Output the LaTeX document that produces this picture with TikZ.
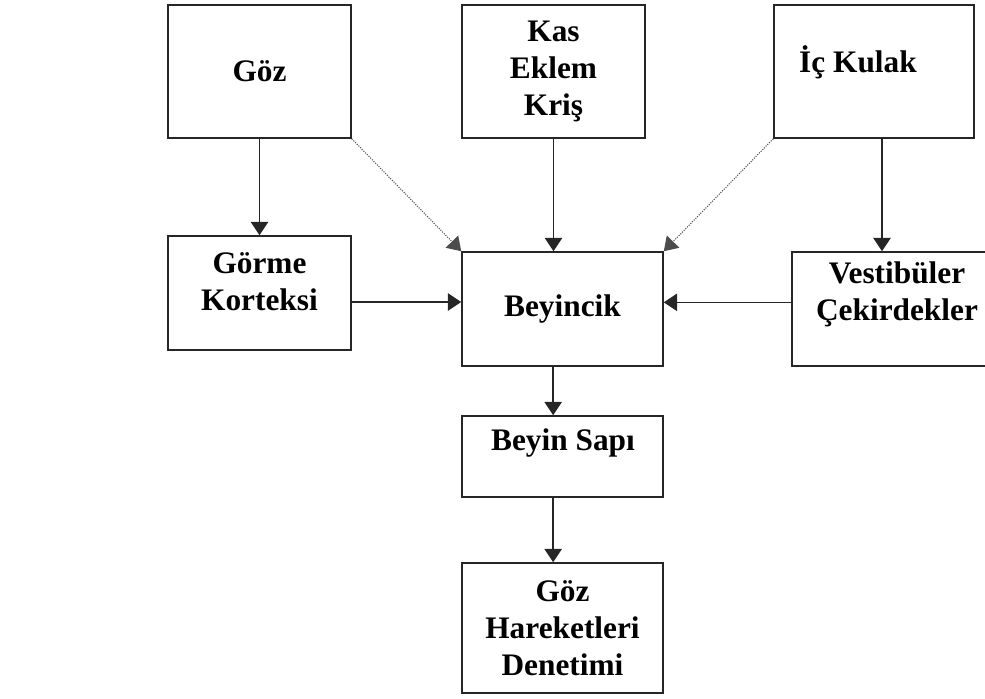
\documentclass[tikz,border=0pt]{standalone}
\usepackage{fontspec}
\setmainfont{Liberation Serif}
\usetikzlibrary{arrows.meta}

\begin{document}
\begin{tikzpicture}[
	x=0.75pt, y=-0.75pt,
	font=\bfseries\fontsize{23.5}{27.5}\selectfont,
	box/.style={rectangle, draw=black!85, line width=1.2pt, inner sep=0pt, align=center},
	txt/.style={align=center, inner sep=0pt},
	link/.style={line width=1.2pt, draw=black!85, -{Triangle[width=13pt,length=10pt]}},
	side/.style={densely dotted, line width=0.8pt, draw=black!70, -{Triangle[width=13pt,length=10pt]}},
	]
	\useasboundingbox (0,0) rectangle (985,699);
	% top row
	\node [box, minimum width=183*0.75pt, minimum height=133*0.75pt] (goz) at (259.5,71.5) {G\"oz};
	\node [box, minimum width=183*0.75pt, minimum height=133*0.75pt] (kas) at (553.5,71.5) {Kas\\Eklem\\Kri\c{s}};
	\node [box, minimum width=200*0.75pt, minimum height=133*0.75pt] (ickulak) at (874,71.5) {};
	\node [txt] (ickulak-t) at (858,62) {\.I\c{c} Kulak};
	% middle row
	\node [box, minimum width=183*0.75pt, minimum height=114*0.75pt] (gorme) at (259.5,293) {};
	\node [txt] (gorme-t) at (259.5,281.5) {G\"orme\\Korteksi};
	\node [box, minimum width=201*0.75pt, minimum height=114*0.75pt] (beyincik) at (562.5,309) {Beyincik};
	\node [box, minimum width=200*0.75pt, minimum height=114*0.75pt] (vest) at (892,309) {};
	\node [txt] (vest-t) at (897,294.5) {Vestib\"uler\\\c{C}ekirdekler};
	% bottom column
	\node [box, minimum width=201*0.75pt, minimum height=81*0.75pt] (sapi) at (562.5,456.5) {};
	\node [txt] (sapi-t) at (563,443) {Beyin Sap\i};
	\node [box, minimum width=201*0.75pt, minimum height=130*0.75pt] (hareket) at (562.5,628) {G\"oz\\Hareketleri\\Denetimi};
	
	\draw [link] (goz.south) -- (gorme.north);
	\draw [side] (goz.south east) -- (beyincik.north west);
	\draw [link] (kas.south) -- (kas.south |- beyincik.north);
	\draw [side] (ickulak.south west) -- (beyincik.north east);
	\draw [link] ([xshift=6pt]ickulak.south) -- ([xshift=6pt]ickulak.south |- vest.north);
	\draw [link] ([yshift=-6.75pt]gorme.east) -- ([yshift=-6.75pt]gorme.east -| beyincik.west);
	\draw [link] ([yshift=5pt]vest.west) -- ([yshift=5pt]vest.west -| beyincik.east);
	\draw [link] ([xshift=-7pt]beyincik.south) -- ([xshift=-7pt]sapi.north);
	\draw [link] ([xshift=-7pt]sapi.south) -- ([xshift=-7pt]hareket.north);
\end{tikzpicture}
\end{document}
